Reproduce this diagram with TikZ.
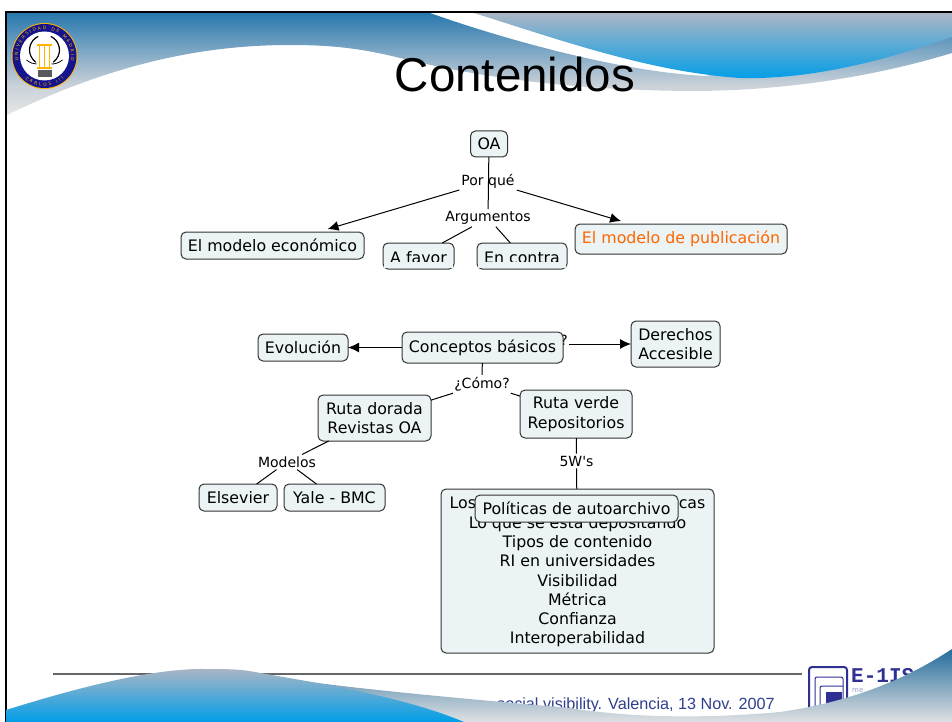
\documentclass[tikz,border=0pt]{standalone}
\usepackage{fontspec}
\setmainfont{DejaVu Sans}
\newfontfamily\titlefont{Liberation Sans}
\newfontfamily\slabfont{Liberation Mono}
\usetikzlibrary{decorations.text,arrows.meta}
\definecolor{boxfill}{HTML}{EBF3F5}
\definecolor{boxline}{HTML}{333333}
\definecolor{swooshtop}{HTML}{2878AE}
\definecolor{swooshmid}{HTML}{C8D0D8}
\definecolor{swooshpale}{HTML}{E6E6E6}
\definecolor{bandtop}{HTML}{ABB5C4}
\definecolor{bandblue}{HTML}{009EE8}
\definecolor{logoblue}{HTML}{2E3192}
\definecolor{footblue}{HTML}{2F3E8F}
\definecolor{sealblue}{HTML}{14148C}
\definecolor{sealgold}{HTML}{FFB400}
\definecolor{hotorange}{HTML}{FF6600}
\pgfdeclareverticalshading{swooshfade}{100bp}{color(0bp)=(swooshpale); color(25bp)=(swooshpale); color(40bp)=(swooshmid); color(75bp)=(swooshtop); color(100bp)=(swooshtop)}
\tikzset{
	concept/.style={draw=boxline,fill=boxfill,line width=1pt,rounded corners=5pt,inner sep=0,outer sep=0,align=center,font=\fontsize{15.8}{19.3}\selectfont},
	linklabel/.style={inner sep=2pt,font=\fontsize{14}{16}\selectfont},
	link/.style={draw=black,line width=1pt},
	linkarrow/.style={link,-{Latex[length=11pt,width=10pt]}},
}
\begin{document}
\begin{tikzpicture}[x=1pt,y=-1pt]
	\useasboundingbox (0,0) rectangle (952,722);
	% top swooshes
	\shade[shading=swooshfade] (7,13) -- (430,13) .. controls (500,38) and (620,72) .. (706,76) -- (952,30) -- (952,53) .. controls (880,75) and (790,91) .. (690,91) .. controls (560,90) and (470,75) .. (400,58) .. controls (360,48) and (330,45) .. (290,45) .. controls (200,45) and (110,65) .. (7,115) -- cycle;
	\shade[top color=bandtop,bottom color=bandblue] (474,13) .. controls (560,40) and (650,72) .. (740,78) .. controls (820,80) and (900,55) .. (952,37) -- (952,13) -- cycle;
	\draw[line width=2.5pt] (6,722) -- (6,12) -- (952,12);
	\node[font=\titlefont\fontsize{47.5}{50}\selectfont] (title) at (515,75) {Contenidos};
	% seal
	\begin{scope}[shift={(44.5,56)},y=1pt]
		\fill[sealgold] (0,0) circle[radius=33pt];
		\fill[sealblue] (0,0) circle[radius=32pt];
		\fill[white] (0,0) circle[radius=24.5pt];
		\path[decorate,decoration={text along path,text align={fit to path},text={|\fontsize{4.4}{5}\selectfont\color{sealgold}|UNIVERSIDAD DE MADRID}}] (-26.2pt,-4.6pt) arc (190:-10:26.6pt);
		\path[decorate,decoration={text along path,text align={fit to path},text={|\fontsize{4.4}{5}\selectfont\color{sealgold}|CARLOS III}}] (-19.3pt,-23pt) arc (230:310:30pt);
		\draw[line width=1.2pt] (-6.3pt,19.6pt) arc (115:235:15pt);
		\draw[line width=1.2pt] (6.3pt,19.6pt) arc (65:-55:15pt);
		\draw[line width=.8pt] (-18pt,-4pt) .. controls (-14pt,-7pt) and (-11pt,-8pt) .. (-8pt,-8pt);
		\draw[line width=.8pt] (18pt,-4pt) .. controls (14pt,-7pt) and (11pt,-8pt) .. (7pt,-8pt);
		\draw[sealgold,line width=1.5pt] (-5pt,11pt) -- (-5pt,-12pt);
		\draw[sealgold,line width=1.5pt] (0pt,11pt) -- (0pt,-12pt);
		\draw[sealgold,line width=1.5pt] (5pt,11pt) -- (5pt,-12pt);
		\draw[sealgold,line width=1.2pt] (-8pt,11pt) -- (7pt,11pt);
		\draw[sealgold,line width=1.2pt] (-8pt,-12pt) -- (7pt,-12pt);
		\fill[black!65] (-7pt,-14pt) rectangle (7pt,-21pt);
	\end{scope}
	% footer
	\draw[line width=1.2pt,draw=black!60] (53,674) -- (802,674);
	\node[font=\titlefont\fontsize{16.2}{18}\selectfont,text=footblue,anchor=east,inner sep=0] (foot) at (775,705) {social visibility. Valencia, 13 Nov. 2007};
	\draw[logoblue,line width=2pt,rounded corners=3pt] (809,730) -- (809,667) -- (847,667) -- (847,730);
	\draw[logoblue,line width=1pt,rounded corners=2pt] (815,730) -- (815,677) -- (843,677) -- (843,730);
	\draw[logoblue,line width=1pt,rounded corners=2pt] (820,730) -- (820,686) -- (843,686);
	\fill[logoblue] (826,692) rectangle (842,712);
	\node[font=\slabfont\bfseries\fontsize{21}{22}\selectfont,text=logoblue,anchor=west,inner sep=0] (logo) at (851,676) {E-1IS};
	\node[font=\fontsize{7}{8}\selectfont,text=logoblue!50,anchor=west,inner sep=0] (logosub) at (852,691) {me};
	\shade[top color=swooshtop!90!black,bottom color=swooshpale!90!bandtop] (238,670) .. controls (300,685) and (480,700) .. (570,708) .. controls (620,716) and (690,720) .. (780,712) .. controls (850,702) and (905,680) .. (952,649) -- (952,722) -- (464,722) -- cycle;
	\shade[top color=bandtop,bottom color=bandblue] (6,710) .. controls (70,690) and (150,668) .. (206,669) .. controls (225,669) and (240,669) .. (255,672) .. controls (310,682) and (400,695) .. (464,722) -- (6,722) -- cycle;
	% upper map
	\node[linklabel] (porque) at (488,181.5) {Por qué};
	\node[linklabel] (argumentos) at (488,218) {Argumentos};
	\node[concept,minimum width=37pt,minimum height=26pt] (oa) at (489,144) {OA};
	\node[concept,minimum width=183pt,minimum height=27pt] (economico) at (272.5,245.5) {El modelo económico};
	\node[concept,minimum width=212pt,minimum height=30pt,text=hotorange] (publicacion) at (681,239) {El modelo de publicación};
	\node[concept,minimum width=71pt,minimum height=26pt,text depth=0pt,text height=14pt] (afavor) at (418.5,256) {A favor};
	\node[concept,minimum width=90pt,minimum height=26pt,text depth=0pt,text height=14pt] (encontra) at (522,256) {En contra};
	\fill[boxfill] ([xshift=1pt,yshift=1pt]afavor.south west) rectangle ([xshift=-1pt,yshift=7.5pt]afavor.south east);
	\fill[boxfill] ([xshift=1pt,yshift=1pt]encontra.south west) rectangle ([xshift=-1pt,yshift=7.5pt]encontra.south east);
	\draw[link] (oa) -- (argumentos);
	\draw[linkarrow,shorten >=10pt] (porque) -- (economico);
	\draw[linkarrow,shorten >=10pt] (porque) -- (publicacion);
	\draw[link] (argumentos) -- (afavor);
	\draw[link] (argumentos) -- (encontra);
	% lower map
	\node[linklabel,inner sep=0] (interrog) at (564,340) {?};
	\coordinate (salida) at (569,344);
	\node[concept,minimum width=161pt,minimum height=31pt] (conceptos) at (482.5,347.5) {Conceptos básicos};
	\node[concept,minimum width=90pt,minimum height=27pt] (evolucion) at (303,347.5) {Evolución};
	\node[concept,minimum width=89pt,minimum height=46pt] (derechos) at (675.5,344) {Derechos\\Accesible};
	\node[linklabel] (como) at (482,384) {¿Cómo?};
	\node[concept,minimum width=113pt,minimum height=46pt] (dorada) at (374.5,418) {Ruta dorada\\Revistas OA};
	\node[concept,minimum width=112pt,minimum height=48pt] (verde) at (576,414) {Ruta verde\\Repositorios};
	\node[linklabel] (modelos) at (287,462) {Modelos};
	\node[linklabel] (cincow) at (576.5,461) {5W\textquotesingle s};
	\node[concept,minimum width=78pt,minimum height=27pt] (elsevier) at (238,497.5) {Elsevier};
	\node[concept,minimum width=101pt,minimum height=27pt] (yale) at (334.5,497.5) {Yale - BMC};
	\node[concept,minimum width=273pt,minimum height=164pt] (temas) at (577.5,571) {\rule{0pt}{14pt}Los\hspace{193pt}ecas\\Lo que se está depositando\\Tipos de contenido\\RI en universidades\\Visibilidad\\Métrica\\Confianza\\Interoperabilidad};
	\node[concept,minimum width=203pt,minimum height=27pt] (politicas) at (576.5,508.5) {Políticas de autoarchivo};
	\draw[linkarrow] (conceptos) -- (evolucion);
	\draw[linkarrow] (salida) -- (derechos);
	\draw[link] (conceptos) -- (como);
	\draw[link] (como) -- (dorada);
	\draw[link] (como) -- (verde);
	\draw[link] (dorada) -- (modelos);
	\draw[link] (modelos) -- (elsevier);
	\draw[link] (modelos) -- (yale);
	\draw[link] (verde) -- (cincow);
	\draw[link] (cincow) -- (temas);
\end{tikzpicture}
\end{document}
